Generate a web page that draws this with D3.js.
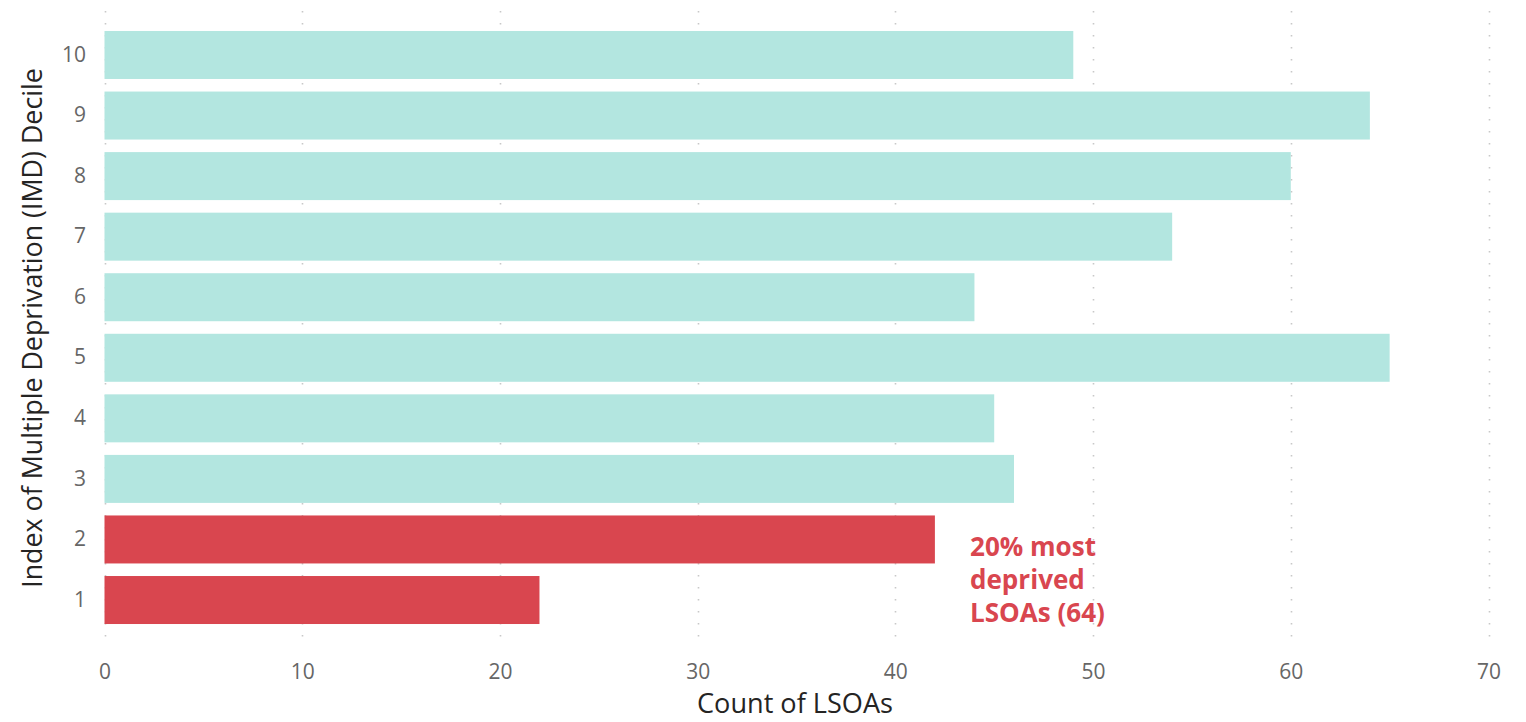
<!DOCTYPE html>
<html><head><meta charset="utf-8">
<script src="https://cdn.jsdelivr.net/npm/d3@7"></script>
<style>
body{margin:0;background:#fff;}
svg{display:block;}
</style></head>
<body><svg id="c" width="1526" height="722"></svg>
<script>
const deciles = ["10","9","8","7","6","5","4","3","2","1"];
const counts = [49,64,60,54,44,65,45,46,42,22];
const highlighted = ["1","2"];
const xTicks = [0,10,20,30,40,50,60,70];
const annotationLines = ["20% most","deprived","LSOAs (64)"];

const FONT = "'Open Sans', 'Noto Sans', sans-serif";
const svg = d3.select("#c");
const x = d3.scaleLinear().domain([0,70]).range([104.5,1488.5]);
const y = d3.scaleBand().domain(deciles).range([24.7,630.3]).paddingInner(0.2075).paddingOuter(0.10375);

function fit(sel, target, base){
  sel.attr("font-size", base);
  const w = sel.node().getComputedTextLength();
  return base * target / w;
}

// gridlines
svg.append("g").selectAll("line").data(xTicks).join("line")
  .attr("x1",d=>Math.round(x(d))+0.5).attr("x2",d=>Math.round(x(d))+0.5)
  .attr("y1",11).attr("y2",644)
  .attr("stroke","#c8c8c8").attr("stroke-width",1.6)
  .attr("stroke-dasharray","1.6,10.4");

// bars
svg.append("g").selectAll("rect").data(deciles).join("rect")
  .attr("x",x(0)).attr("y",d=>y(d))
  .attr("width",(d,i)=>x(counts[i])-x(0))
  .attr("height",y.bandwidth())
  .attr("fill",d=>highlighted.includes(d)?"#d9464f":"#b3e6e0");

// tick font size from reference "10" width
const probe = svg.append("text").attr("font-family",FONT).text("10");
const tickSize = fit(probe, 24, 20);
probe.remove();

// x axis
const xa = svg.append("g").attr("transform","translate(0,672)")
  .call(d3.axisBottom(x).tickValues(xTicks).tickSize(0).tickPadding(0));
xa.select(".domain").remove();
xa.selectAll("text").attr("font-family",FONT).attr("font-size",tickSize).attr("fill","#666").attr("dy","0.35em");

// y axis
const ya = svg.append("g").attr("transform","translate(86,0)")
  .call(d3.axisLeft(y).tickSize(0).tickPadding(0));
ya.select(".domain").remove();
ya.selectAll("text").attr("font-family",FONT).attr("font-size",tickSize).attr("fill","#666");

// axis titles
const xt = svg.append("text").attr("x",795).attr("y",704).attr("dy","0.35em")
  .attr("text-anchor","middle").attr("font-family",FONT)
  .attr("fill","#252423").text("Count of LSOAs");
xt.attr("font-size", fit(xt,196,22));
const yt = svg.append("text").attr("transform","translate(33,328) rotate(-90)").attr("dy","0.35em")
  .attr("text-anchor","middle").attr("font-family",FONT)
  .attr("fill","#252423").text("Index of Multiple Deprivation (IMD) Decile");
yt.attr("font-size", fit(yt,520,22));

// annotation
const ann = svg.append("g").selectAll("text").data(annotationLines).join("text")
  .attr("x",970).attr("y",(d,i)=>547+i*33).attr("dy","0.35em")
  .attr("font-family",FONT).attr("font-weight","bold")
  .attr("fill","#d9464f").text(d=>d);
const annSize = fit(ann.filter((d,i)=>i===2), 135, 23);
ann.attr("font-size", annSize);
</script></body></html>
